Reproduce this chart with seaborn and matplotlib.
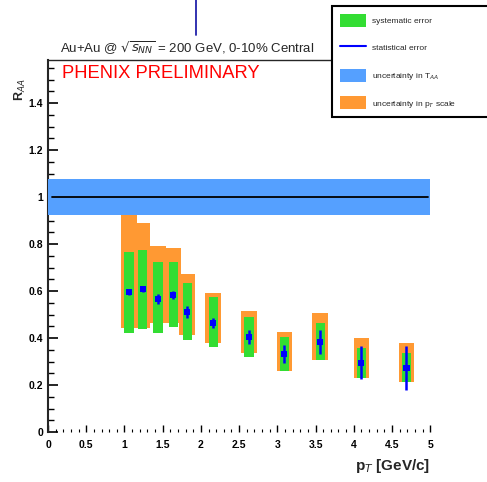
import pandas as pd
import matplotlib
matplotlib.use("Agg")
import matplotlib.pyplot as plt
from matplotlib.patches import Patch
from matplotlib.lines import Line2D
from matplotlib.ticker import MultipleLocator
import seaborn as sns

# data (pT in GeV/c, R_AA)
pt = [1.06, 1.24, 1.44, 1.64, 1.82, 2.16, 2.63, 3.09, 3.56, 4.10, 4.69]
raa = [0.596, 0.609, 0.566, 0.583, 0.511, 0.464, 0.404, 0.332, 0.383, 0.294, 0.272]
stat_err = [0.012, 0.012, 0.02, 0.018, 0.025, 0.02, 0.028, 0.038, 0.053, 0.07, 0.094]
sys_lo = [0.421, 0.438, 0.421, 0.447, 0.391, 0.362, 0.319, 0.260, 0.306, 0.230, 0.213]
sys_hi = [0.766, 0.774, 0.723, 0.723, 0.634, 0.574, 0.489, 0.404, 0.464, 0.357, 0.336]
scale_lo = [0.443, 0.443, 0.464, 0.464, 0.413, 0.379, 0.336, 0.260, 0.306, 0.230, 0.213]
scale_hi = [0.932, 0.889, 0.791, 0.783, 0.672, 0.591, 0.515, 0.426, 0.506, 0.400, 0.379]
taa_unc = 0.075

df = pd.DataFrame({"pt": pt, "raa": raa, "stat": stat_err,
                   "sys_lo": sys_lo, "sys_hi": sys_hi,
                   "sc_lo": scale_lo, "sc_hi": scale_hi})

sns.set_style("ticks")
plt.rcParams["font.family"] = ["Liberation Sans", "DejaVu Sans"]

green = "#33dd33"
orange = "#ff9933"
band_blue = "#55a0ff"

fig = plt.figure(figsize=(4.87, 4.82), dpi=100)
ax = fig.add_axes([48 / 487, 1 - 432 / 482, (434 - 48) / 487, 372 / 482])

# uncertainty boxes
ax.bar(df["pt"], df["sc_hi"] - df["sc_lo"], bottom=df["sc_lo"], width=0.2,
       color=orange, linewidth=0, zorder=1)
ax.bar(df["pt"], df["sys_hi"] - df["sys_lo"], bottom=df["sys_lo"], width=0.12,
       color=green, linewidth=0, zorder=2)

# T_AA normalisation band and unity line
ax.fill_between([0, 5.0], 1 - taa_unc, 1 + taa_unc, color=band_blue, linewidth=0, zorder=3)
ax.plot([0.05, 4.97], [1, 1], color="black", lw=1.3, zorder=4)

# points with statistical errors
ax.errorbar(df["pt"], df["raa"], yerr=df["stat"], fmt="none", ecolor="blue",
            elinewidth=1.8, capsize=0, zorder=5)
sns.scatterplot(data=df, x="pt", y="raa", marker="s", color="blue", s=20,
                edgecolor="none", zorder=6, ax=ax, legend=False)

ax.set_xlim(0, 5.05)
ax.set_ylim(0, 1.583)
ax.set_xlabel("")
ax.set_ylabel("")
ax.xaxis.set_minor_locator(MultipleLocator(0.1))
ax.yaxis.set_minor_locator(MultipleLocator(0.05))
ax.set_xticks([0, 0.5, 1, 1.5, 2, 2.5, 3, 3.5, 4, 4.5, 5])
ax.set_xticklabels(["0", "0.5", "1", "1.5", "2", "2.5", "3", "3.5", "4", "4.5", "5"])
ax.set_yticks([0, 0.2, 0.4, 0.6, 0.8, 1, 1.2, 1.4])
ax.set_yticklabels(["0", "0.2", "0.4", "0.6", "0.8", "1", "1.2", "1.4"])
ax.tick_params(axis="both", which="both", direction="in", labelsize=7.5, colors="black")
ax.tick_params(axis="y", which="major", length=7, width=1.2)
ax.tick_params(axis="y", which="minor", length=4, width=1)
ax.tick_params(axis="x", which="major", length=5, width=1, pad=6)
ax.tick_params(axis="x", which="minor", length=2.5, width=0.8)
for lab in ax.get_xticklabels() + ax.get_yticklabels():
    lab.set_fontweight("bold")

for side in ["right", "bottom"]:
    ax.spines[side].set_visible(False)
ax.spines["left"].set_linewidth(1.5)
ax.spines["top"].set_linewidth(1.0)

# text
fig.text(60 / 487, 1 - 48 / 482, r"Au+Au @ $\sqrt{s_{NN}}$ = 200 GeV, 0-10% Central",
         fontsize=9.5, va="center", ha="left")
fig.text(62 / 487, 1 - 73 / 482, "PHENIX PRELIMINARY", color="red",
         fontsize=13.2, va="center", ha="left")
fig.text(20 / 487, 1 - 90 / 482, r"R$_{AA}$", rotation=90, fontsize=9,
         fontweight="bold", va="center", ha="center")
fig.text(430 / 487, 1 - 466 / 482, r"p$_T$ [GeV/c]", fontsize=11,
         fontweight="bold", va="center", ha="right")

# stray vertical line at the top of the frame
fig.add_artist(Line2D([196 / 487, 196 / 487], [1 - 35 / 482, 1.0],
                      transform=fig.transFigure, color="#2222aa", lw=1.3))

handles = [Patch(facecolor=green, edgecolor="none"),
           Line2D([], [], color="blue", lw=1.5),
           Patch(facecolor=band_blue, edgecolor="none"),
           Patch(facecolor=orange, edgecolor="none")]
labels = ["systematic error", "statistical error",
          r"uncertainty in T$_{AA}$", r"uncertainty in p$_T$ scale"]
leg = fig.legend(handles, labels, loc="lower left", mode="expand",
                 bbox_to_anchor=(332 / 487, 1 - 117 / 482, 0.36, 0.3),
                 fontsize=6, frameon=True, fancybox=False, framealpha=1,
                 handlelength=3.2, handleheight=2.0, labelspacing=1.75,
                 borderaxespad=0, borderpad=0.9, handletextpad=0.7)
leg.get_frame().set_edgecolor("black")
leg.get_frame().set_linewidth(1.5)

fig.savefig("out.png", dpi=100)
